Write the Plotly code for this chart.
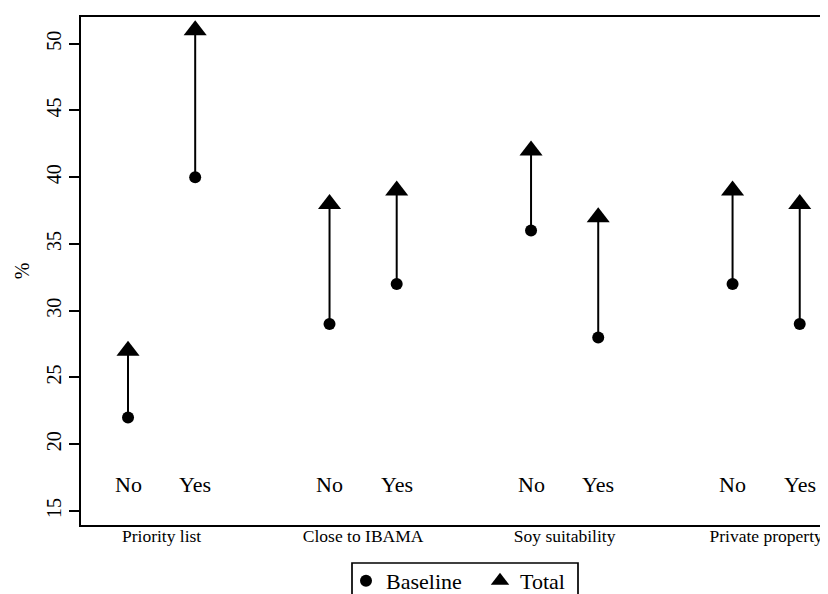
import plotly.graph_objects as go

groups = ["Priority list", "Close to IBAMA", "Soy suitability", "Private property"]
levels = ["No", "Yes"]
baseline = [22, 40, 29, 32, 36, 28, 32, 29]
total = [27, 51, 38, 39, 42, 37, 39, 38]
y_ticks = [15, 20, 25, 30, 35, 40, 45, 50]

FONT = "Liberation Serif, Times New Roman, serif"

# x positions: two levels per group, a gap of one slot between groups
xpos = []
lvl_labels = []
for g in range(len(groups)):
    for k, lv in enumerate(levels):
        xpos.append(3 * g + 1 + k)
        lvl_labels.append(lv)
group_centers = [3 * g + 1.5 for g in range(len(groups))]

fig = go.Figure()

# connecting lines
lx, ly = [], []
for x, b, t in zip(xpos, baseline, total):
    lx += [x, x, None]
    ly += [b, t, None]
fig.add_trace(go.Scatter(x=lx, y=ly, mode="lines", line=dict(color="black", width=2),
                         showlegend=False, hoverinfo="skip"))

fig.add_trace(go.Scatter(x=xpos, y=baseline, mode="markers", name="Baseline", legend="legend",
                         marker=dict(symbol="circle", size=12, color="black")))
fig.add_trace(go.Scatter(x=xpos, y=total, mode="markers", name="Total", legend="legend2",
                         marker=dict(symbol="triangle-up", size=20, color="black")))

for x, lab in zip(xpos, lvl_labels):
    fig.add_annotation(x=x, y=17, xref="x", yref="y", text=lab, showarrow=False,
                       font=dict(family=FONT, size=22, color="black"))

# legend frame
fig.add_shape(type="rect", xref="paper", yref="paper",
              x0=(344 - 73) / 755, x1=(570 - 73) / 755,
              y0=(517 - 555) / 508, y1=(517 - 620) / 508,
              line=dict(color="black", width=1.7), fillcolor="rgba(0,0,0,0)", layer="above")

leg_common = dict(orientation="h", xanchor="left", yanchor="top", borderwidth=0,
                  bgcolor="rgba(0,0,0,0)", font=dict(family=FONT, size=22, color="black"),
                  itemsizing="trace")

fig.update_layout(
    width=828, height=594,
    margin=dict(l=73, r=0, t=9, b=77, autoexpand=False),
    paper_bgcolor="white", plot_bgcolor="white",
    font=dict(family=FONT, color="black"),
    showlegend=True,
    legend=dict(x=(338 - 73) / 755, y=(517 - 552) / 508, **leg_common),
    legend2=dict(x=(472 - 73) / 755, y=(517 - 552) / 508, **leg_common),
    xaxis=dict(range=[0.3, 11.54], showgrid=False, zeroline=False,
               showline=True, linecolor="black", linewidth=2, mirror=True,
               tickmode="array", tickvals=group_centers, ticktext=groups,
               ticks="", ticklabelstandoff=-6,
               tickfont=dict(family=FONT, size=17.5, color="black")),
    yaxis=dict(range=[13.95, 52], showgrid=False, zeroline=False,
               showline=True, linecolor="black", linewidth=2,
               tickmode="array", tickvals=y_ticks, ticks="outside", ticklen=10,
               tickwidth=1.5, tickcolor="black", tickangle=-90,
               tickfont=dict(family=FONT, size=20, color="black"),
               title=dict(text="%", font=dict(family=FONT, size=20, color="black"), standoff=8)),
)

fig.write_html("out.html")
